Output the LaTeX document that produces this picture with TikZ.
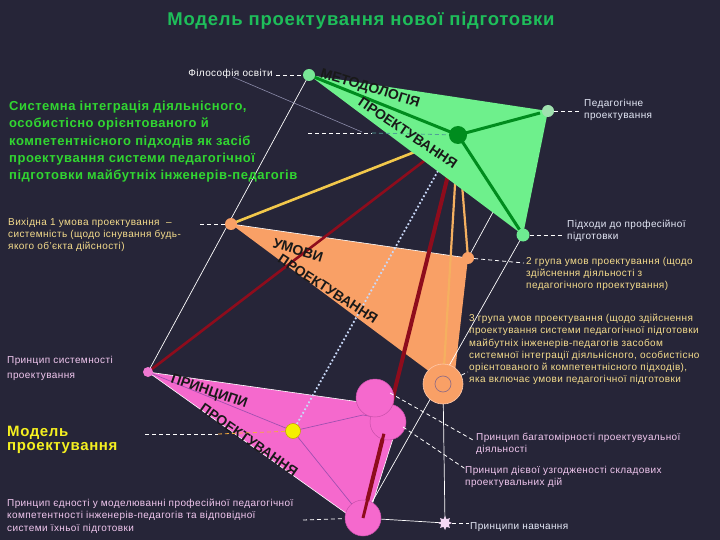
\documentclass[tikz,border=0pt]{standalone}
\usepackage{fontspec}
\setmainfont{Liberation Sans}
\newfontfamily\lsf[LetterSpace=4]{Liberation Sans}
\usetikzlibrary{shapes.geometric,calc}
\definecolor{bgc}{HTML}{262538}
\definecolor{gfill}{HTML}{6EF08C}
\definecolor{gdark}{HTML}{008C1E}
\definecolor{ofill}{HTML}{F9A066}
\definecolor{pfill}{HTML}{F569CD}
\definecolor{dred}{HTML}{8E0C1C}
\definecolor{ylw}{HTML}{F2C84B}
\definecolor{lor}{HTML}{F5B060}
\definecolor{dotc}{HTML}{C8D8F8}
\definecolor{titleg}{HTML}{1EBE5A}
\definecolor{sysg}{HTML}{31D631}
\definecolor{condt}{HTML}{F5DC8C}
\definecolor{appt}{HTML}{E6EAF8}
\definecolor{prt}{HTML}{F2C8F0}
\definecolor{modt}{HTML}{F5F020}
\tikzset{
  lbl/.style={font=\lsf\fontsize{10}{12.2}\selectfont, align=left, inner sep=0pt, anchor=north west},
  wdash/.style={draw=white, dash pattern=on 4pt off 3pt, line width=0.8pt},
  thinw/.style={draw=white, line width=0.7pt},
  dot/.style={circle, inner sep=0pt},
  tri/.style={font=\bfseries\fontsize{14}{14}\selectfont, text=black!90, inner sep=0pt},
}
\begin{document}
\begin{tikzpicture}[x=1pt,y=-1pt]
\fill[bgc] (0,0) rectangle (720,540);
\useasboundingbox (0,0) rectangle (720,540);

% positions
\coordinate (gA1) at (309,75);
\coordinate (gA2) at (548,111);
\coordinate (gA3) at (523,235);
\coordinate (gC) at (458,135);
\coordinate (oA1) at (231,224);
\coordinate (oA2) at (468,258);
\coordinate (oA3) at (443,384);
\coordinate (pA1) at (148,372);
\coordinate (pY) at (293,431);
\coordinate (pB) at (363,518);
\coordinate (st) at (445,523);

% orange and pink triangles
\fill[ofill] (oA1) -- (oA2) -- (455,372) -- (430,372) -- cycle;
\fill[pfill] (pA1) -- (360,402) -- (397,426) -- (372,505) -- (350,516) -- cycle;
\draw[white, line width=0.6pt] (oA1) -- (oA2);
\draw[white, line width=0.6pt] (pA1) -- (360,402);
\draw[white, line width=0.6pt] (pA1) -- (350,516);
\draw[white, line width=0.6pt] (397,426) -- (372,505);

% inner lines of pink triangle
\draw[draw={rgb,255:red,160;green,80;blue,176}, line width=0.7pt] (pY) -- (pA1);
\draw[draw={rgb,255:red,160;green,80;blue,176}, line width=0.7pt] (pY) -- (363,415) -- (392,420);
\draw[draw={rgb,255:red,160;green,80;blue,176}, line width=0.7pt] (pY) -- (pB);

% white thin connectors
\draw[thinw] (gA1) -- (pA1);
\draw[thinw] (oA2) -- (gA2);
\draw[thinw] (gA3) -- (pB);
\draw[thinw] (oA3) -- (st);
\draw[thinw] (pB) -- (st);
\draw[draw={rgb,255:red,140;green,140;blue,170}, line width=0.6pt] (233,77) -- (362,132);

% coloured connectors to the green centre
\draw[dotc, line width=1.8pt, dash pattern=on 1.8pt off 2.2pt] (pY) -- (gC);
\draw[dred, line width=2.6pt] (pA1) -- (gC);
\draw[dred, line width=4pt] (pB) -- (gC);
\draw[ylw, line width=2.6pt] (oA1) -- (gC);
\draw[lor, line width=2.2pt] (oA3) -- (gC);
\draw[lor, line width=2.2pt] (oA2) -- (gC);

% green triangle
\fill[gfill] (gA1) -- (gA2) -- (gA3) -- cycle;
\draw[wdash] (308,133) -- (372,133);
\draw[draw={rgb,255:red,80;green,160;blue,150}, dash pattern=on 4pt off 3pt, line width=0.8pt] (372,133) -- (gC);
\draw[gdark, line width=3pt] (gC) -- (gA1);
\draw[gdark, line width=3pt] (gC) -- (540,113);
\draw[gdark, line width=3pt] (gC) -- (gA3);

% vertex circles
\node[dot, fill={rgb,255:red,120;green,230;blue,150}, minimum size=12pt] (nA1) at (gA1) {};
\node[dot, fill={rgb,255:red,160;green,225;blue,175}, minimum size=12pt] (nA2) at (gA2) {};
\node[dot, fill={rgb,255:red,110;green,235;blue,145}, minimum size=13pt] (nA3) at (gA3) {};
\node[dot, fill=gdark, minimum size=18pt] (nC) at (gC) {};
\node[dot, fill=ofill, minimum size=12pt] (nO1) at (oA1) {};
\node[dot, fill=ofill, minimum size=12pt] (nO2) at (oA2) {};
\node[dot, fill=ofill, draw={rgb,255:red,255;green,200;blue,170}, line width=0.6pt, minimum size=40pt] (nO3) at (oA3) {};
\node[dot, draw={rgb,255:red,150;green,110;blue,130}, line width=0.7pt, minimum size=16pt] (nO3i) at (oA3) {};
\node[dot, fill={rgb,255:red,240;green,120;blue,210}, minimum size=10pt] (nP1) at (pA1) {};
\node[dot, fill=pfill, draw={rgb,255:red,200;green,80;blue,170}, line width=0.5pt, minimum size=36pt] (nP3) at (388,422) {};
\node[dot, fill=pfill, draw={rgb,255:red,200;green,80;blue,170}, line width=0.5pt, minimum size=38pt] (nP2) at (375,398) {};
\node[dot, fill=pfill, draw={rgb,255:red,200;green,80;blue,170}, line width=0.5pt, minimum size=36pt] (nPB) at (pB) {};
\draw[dred, line width=3pt] (pB) -- ($(pB)!0.22!(gC)$);
\node[dot, fill={rgb,255:red,245;green,240;blue,0}, draw={rgb,255:red,190;green,160;blue,0}, line width=0.5pt, minimum size=15pt] (nY) at (pY) {};
\node[star, star points=8, star point ratio=1.7, fill={rgb,255:red,244;green,216;blue,244}, inner sep=0pt, minimum size=14pt] (nSt) at (st) {};

% triangle titles
\node[tri, rotate=-17] (t1) at (370,89) {МЕТОДОЛОГІЯ};
\node[tri, rotate=-34] (t2) at (408,133) {ПРОЕКТУВАННЯ};
\node[tri, rotate=-17] (t3) at (298,250) {УМОВИ};
\node[tri, rotate=-33] (t4) at (328,289) {ПРОЕКТУВАННЯ};
\node[tri, rotate=-19] (t5) at (209,392) {ПРИНЦИПИ};
\node[tri, rotate=-35] (t6) at (249,440) {ПРОЕКТУВАННЯ};

% title
\node[font=\lsf\bfseries\fontsize{18.5}{20}\selectfont, text=titleg, inner sep=0pt] (title) at (361,21) {Модель проектування нової підготовки};

% labels
\node[lbl, anchor=north east, text=white] (phil) at (273,69) {Філософія освіти};
\draw[wdash] (276,75) -- (nA1);

\node[lbl, font=\lsf\bfseries\fontsize{13}{17.2}\selectfont, text=sysg] (sys) at (9,101) {Системна інтеграція діяльнісного,\\особистісно орієнтованого й\\компетентнісного підходів як засіб\\проектування системи педагогічної\\підготовки майбутніх інженерів-педагогів};

\node[lbl, text=appt] (ped) at (584,99) {Педагогічне\\проектування};
\draw[wdash] (nA2) -- (582,111);

\node[lbl, text=condt] (vyh) at (8,218) {Вихідна 1 умова проектування \ –\\системність (щодо існування будь-\\якого об’єкта дійсності)};
\draw[wdash] (200,224) -- (nO1);

\node[lbl, text=appt] (pid) at (567,220) {Підходи до професійної\\підготовки};
\draw[wdash] (nA3) -- (563,235);

\node[lbl, text=condt] (gr2) at (526,257) {2 група умов проектування (щодо\\здійснення діяльності з\\педагогічного проектування)};
\draw[wdash] (nO2) -- (524,263);

\node[lbl, text=condt] (gr3) at (469,314) {3 група умов проектування (щодо здійснення\\проектування системи педагогічної підготовки\\майбутніх інженерів-педагогів засобом\\системної інтеграції діяльнісного, особистісно\\орієнтованого й компетентнісного підходів),\\яка включає умови педагогічної підготовки};
\draw[wdash] (nO3) -- (468,372);

\node[lbl, font=\lsf\fontsize{10}{15}\selectfont, text=prt] (sist) at (7,356) {Принцип системності\\проектування};

\node[lbl, font=\lsf\bfseries\fontsize{15}{14}\selectfont, text=modt] (mod) at (7,426) {Модель\\проектування};
\draw[wdash] (145,434) -- (218,434);
\draw[draw={rgb,255:red,245;green,170;blue,60}, dash pattern=on 4pt off 3pt, line width=0.8pt] (218,434) -- (nY);

\node[lbl, text=prt] (bag) at (476,433) {Принцип багатомірності проектувуальної\\діяльності};
\draw[wdash] (390,393) -- (473,440);

\node[lbl, text=prt] (diev) at (465,466) {Принцип дієвої узгодженості складових\\проектувальних дій};
\draw[wdash] (403,427) -- (467,470);

\node[lbl, text=appt] (navch) at (470,522) {Принципи навчання};
\draw[wdash] (nSt) -- (469,523);

\node[lbl, text=prt] (edn) at (7,499) {Принцип єдності у моделюванні професійної педагогічної\\компетентності інженерів-педагогів та відповідної\\системи їхньої підготовки};
\draw[wdash] (303,520) -- (nPB);
\end{tikzpicture}
\end{document}
